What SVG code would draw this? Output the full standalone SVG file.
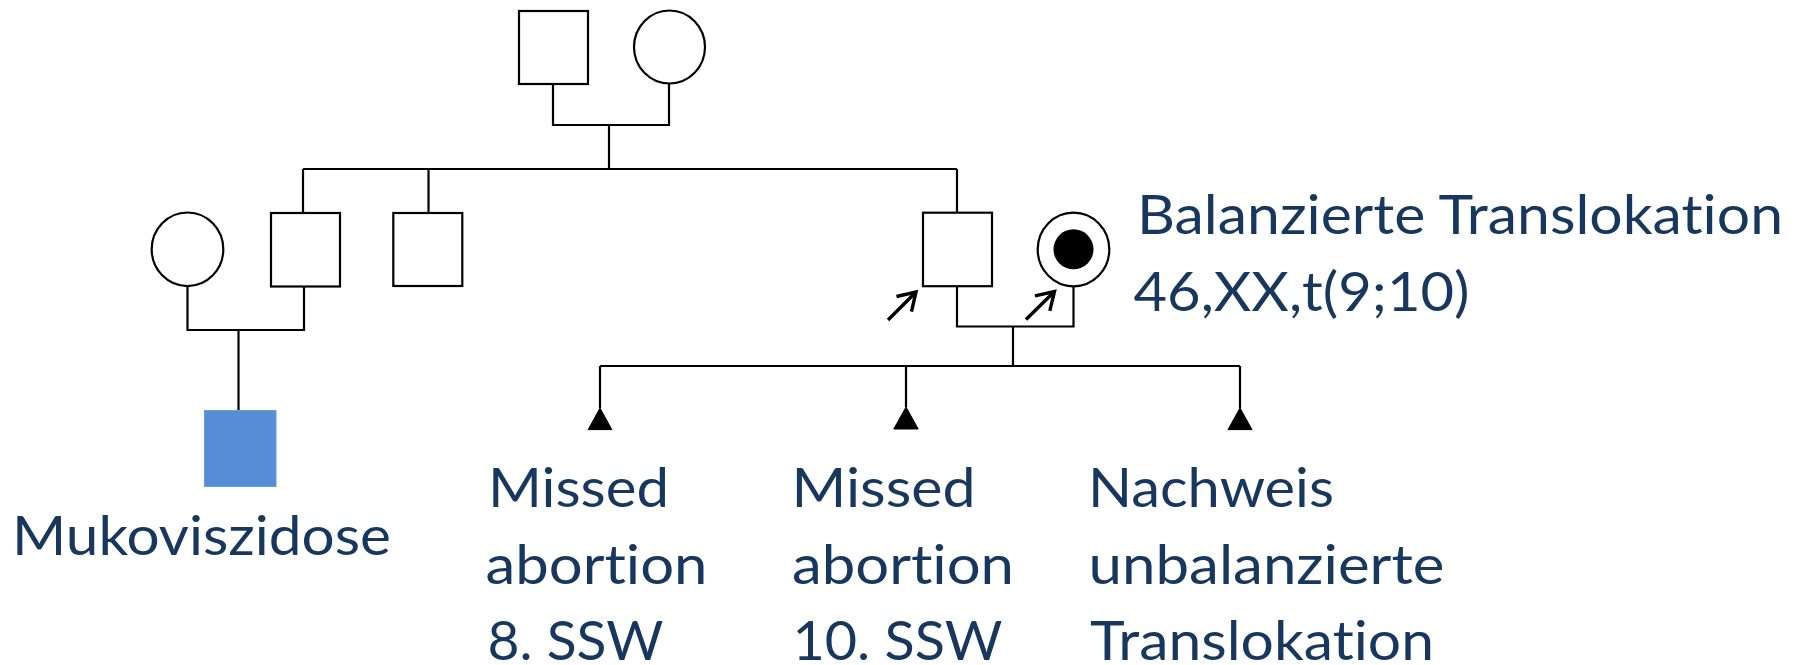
<svg xmlns="http://www.w3.org/2000/svg" width="1806" height="665" viewBox="0 0 1806 665">
  <style>
    .sym { fill: #ffffff; stroke: #000000; stroke-width: 2.2; }
    .line { fill: none; stroke: #000000; stroke-width: 2.2; }
    .affected { fill: #558ED5; stroke: #6A9BD9; stroke-width: 1; }
    .dot { fill: #000000; }
    .fetus { fill: #000000; stroke: #000000; stroke-width: 1; stroke-linejoin: miter; }
    .arrow { fill: none; stroke: #000000; stroke-width: 3.4; marker-end: url(#chevron); }
    .label { font-family: Lato, "Open Sans", sans-serif; font-size: 55px; fill: #17375E;
             font-variant-ligatures: none; font-feature-settings: "liga" 0, "clig" 0; }
  </style>
  <defs>
    <marker id="chevron" markerUnits="userSpaceOnUse" viewBox="0 0 22 26" refX="19" refY="13" markerWidth="22" markerHeight="26" orient="auto" overflow="visible">
      <path d="M2,2.4 L19,13 L2,23.6" fill="none" stroke="#000000" stroke-width="3.4" stroke-linejoin="miter"/>
    </marker>
  </defs>

  <!-- lines of descent and partnership -->
  <g id="connectors">
    <!-- grandparents -->
    <path class="line" d="M553,84 V125 H669 V84"/>
    <path class="line" d="M609,125 V169"/>
    <path class="line" d="M303,169 H957"/>
    <path class="line" d="M303,169 V212"/>
    <path class="line" d="M428.5,169 V212"/>
    <path class="line" d="M957,169 V212"/>
    <!-- left couple -->
    <path class="line" d="M187.5,287 V330 H304 V287"/>
    <path class="line" d="M238.5,330 V410"/>
    <!-- index couple -->
    <path class="line" d="M957,287 V326.5 H1073.5 V287"/>
    <path class="line" d="M1013,326.5 V366"/>
    <path class="line" d="M600,366 H1240"/>
    <path class="line" d="M600,366 V408"/>
    <path class="line" d="M906,366 V407"/>
    <path class="line" d="M1240,366 V408"/>
    <!-- index arrows -->
    <path class="arrow" d="M888,320 L916,292"/>
    <path class="arrow" d="M1026,319.5 L1054.5,291.5"/>
  </g>

  <g id="grandfather">
    <rect class="sym" x="519" y="11" width="69" height="73"/>
  </g>
  <g id="grandmother">
    <ellipse class="sym" cx="669.5" cy="47" rx="35.5" ry="36.5"/>
  </g>

  <g id="aunt-in-law">
    <ellipse class="sym" cx="187.5" cy="249.3" rx="35.8" ry="36.8"/>
  </g>
  <g id="uncle-1">
    <rect class="sym" x="271" y="213" width="69" height="73.5"/>
  </g>
  <g id="uncle-2">
    <rect class="sym" x="393.3" y="213" width="69" height="73"/>
  </g>

  <g id="index-male">
    <rect class="sym" x="923" y="212.7" width="69" height="73.5"/>
  </g>
  <g id="index-female">
    <ellipse class="sym" cx="1073.5" cy="249.5" rx="35.8" ry="36.8"/>
    <circle class="dot" cx="1073.5" cy="249.3" r="20"/>
  </g>
  <g id="index-female-label">
    <text class="label" x="1137" y="233.5" textLength="646" lengthAdjust="spacingAndGlyphs">Balanzierte Translokation</text>
    <text class="label" x="1133.5" y="310.5" textLength="336" lengthAdjust="spacingAndGlyphs">46,XX,t(9;10)</text>
  </g>

  <g id="cousin">
    <rect class="affected" x="204.5" y="410.5" width="71.5" height="76"/>
    <text class="label" x="12" y="555" textLength="379" lengthAdjust="spacingAndGlyphs">Mukoviszidose</text>
  </g>

  <g id="pregnancy-1">
    <polygon class="fetus" points="600,408 588.2,429.6 611.8,429.6"/>
    <text class="label" x="488" y="507" textLength="181" lengthAdjust="spacingAndGlyphs">Missed</text>
    <text class="label" x="485.5" y="584" textLength="222" lengthAdjust="spacingAndGlyphs">abortion</text>
    <text class="label" x="487.5" y="660" textLength="176" lengthAdjust="spacingAndGlyphs">8. SSW</text>
  </g>
  <g id="pregnancy-2">
    <polygon class="fetus" points="906,407 893.8,429 918.2,429"/>
    <text class="label" x="791.5" y="507" textLength="184" lengthAdjust="spacingAndGlyphs">Missed</text>
    <text class="label" x="792" y="584" textLength="222" lengthAdjust="spacingAndGlyphs">abortion</text>
    <text class="label" x="792.5" y="660" textLength="210" lengthAdjust="spacingAndGlyphs">10. SSW</text>
  </g>
  <g id="pregnancy-3">
    <polygon class="fetus" points="1240,408 1228,429.6 1252,429.6"/>
    <text class="label" x="1088" y="507" textLength="246" lengthAdjust="spacingAndGlyphs">Nachweis</text>
    <text class="label" x="1088.5" y="584" textLength="356" lengthAdjust="spacingAndGlyphs">unbalanzierte</text>
    <text class="label" x="1090" y="660" textLength="344" lengthAdjust="spacingAndGlyphs">Translokation</text>
  </g>
</svg>
